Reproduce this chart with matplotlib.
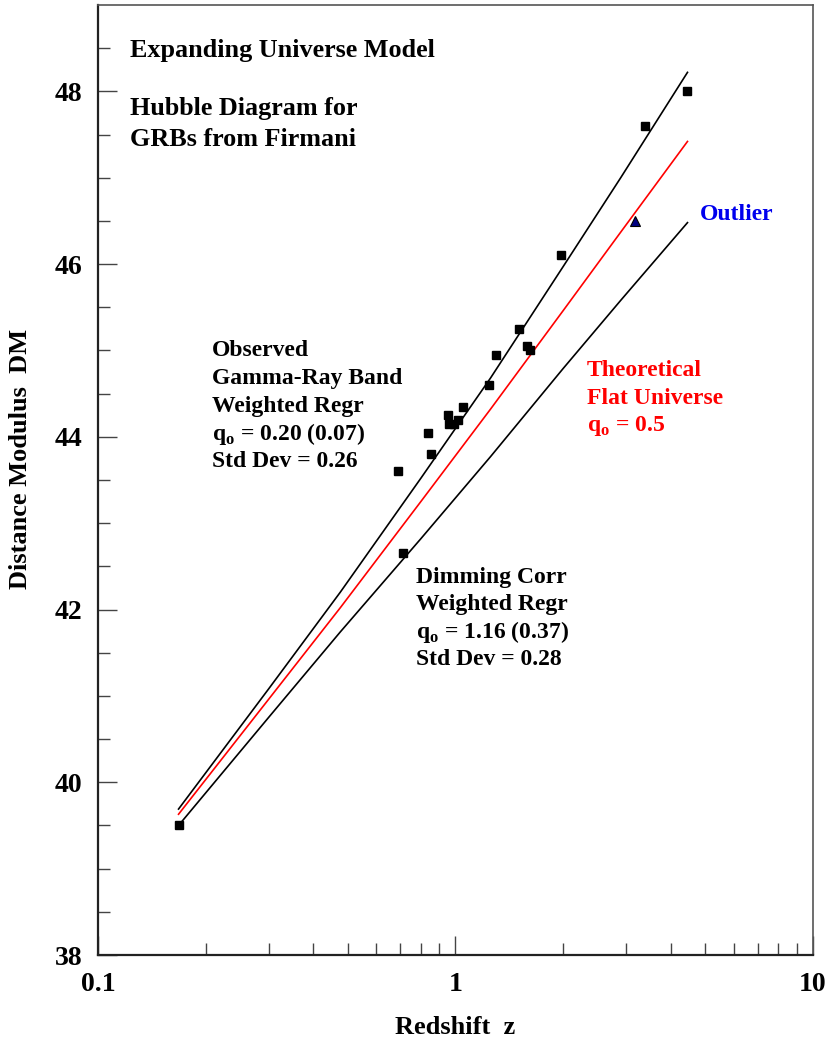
import matplotlib
matplotlib.use("Agg")
import matplotlib.pyplot as plt
from matplotlib.ticker import FixedLocator, NullFormatter, FixedFormatter

# GRB sample (Firmani): redshift and distance modulus
z_grb = [0.168, 0.691, 0.712, 0.839, 0.855, 0.951, 0.960, 0.989, 1.015,
         1.051, 1.245, 1.297, 1.508, 1.584, 1.612, 1.968, 3.384, 4.45]
dm_grb = [39.5, 43.6, 42.65, 44.05, 43.8, 44.25, 44.15, 44.15, 44.2,
          44.35, 44.6, 44.95, 45.25, 45.05, 45.0, 46.1, 47.6, 48.0]

# Outlier burst
z_outlier = [3.17]
dm_outlier = [46.5]

# Model curves sampled in redshift
z_curve = [0.168, 0.3, 0.476, 0.8, 1.253, 2.0, 2.899, 4.457]
dm_observed_fit = [39.69, 41.08, 42.20, 43.52, 44.68, 45.97, 47.00, 48.22]
dm_flat_theory = [39.63, 40.96, 42.02, 43.25, 44.32, 45.46, 46.37, 47.42]
dm_dimming_fit = [39.50, 40.75, 41.74, 42.82, 43.77, 44.79, 45.58, 46.48]

y_major = [38, 40, 42, 44, 46, 48]
y_minor = [38.5, 39, 39.5, 40.5, 41, 41.5, 42.5, 43, 43.5,
           44.5, 45, 45.5, 46.5, 47, 47.5, 48.5]
x_major = [0.1, 1, 10]
x_major_labels = ["0.1", "1", "10"]

SERIF = ["Liberation Serif", "DejaVu Serif"]
plt.rcParams["font.family"] = SERIF
plt.rcParams["font.weight"] = "bold"
plt.rcParams["mathtext.fontset"] = "custom"
plt.rcParams["mathtext.rm"] = "Liberation Serif:bold"

fig = plt.figure(figsize=(8.27, 10.41), dpi=100)
ax = fig.add_axes([0.1185, 0.0826, 0.8645, 0.9126])

ax.plot(z_curve, dm_observed_fit, color="black", lw=1.2)
ax.plot(z_curve, dm_flat_theory, color="red", lw=1.2)
ax.plot(z_curve, dm_dimming_fit, color="black", lw=1.2)

ax.plot(z_grb, dm_grb, ls="none", marker="s", ms=5.5, color="black")
ax.plot(z_outlier, dm_outlier, ls="none", marker="^", ms=6.5,
        markerfacecolor="#000080", markeredgecolor="black", mew=0.8)

ax.set_xscale("log")
ax.set_xlim(0.1, 10)
ax.set_ylim(38, 49)

ax.xaxis.set_major_locator(FixedLocator(x_major))
ax.xaxis.set_major_formatter(FixedFormatter(x_major_labels))
ax.xaxis.set_minor_locator(FixedLocator(
    [m * d for d in (0.1, 1) for m in range(2, 10)]))
ax.xaxis.set_minor_formatter(NullFormatter())
ax.yaxis.set_major_locator(FixedLocator(y_major))
ax.yaxis.set_minor_locator(FixedLocator(y_minor))

ax.tick_params(axis="both", which="both", direction="in", color="#444444",
               width=1.0)
ax.tick_params(axis="both", which="major", length=14)
ax.tick_params(axis="both", which="minor", length=8.5)
ax.tick_params(axis="y", which="major", pad=11, labelsize=20)
ax.tick_params(axis="x", which="major", pad=12, labelsize=20)
for lab in ax.get_xticklabels() + ax.get_yticklabels():
    lab.set_fontweight("bold")

for side in ("left", "bottom"):
    ax.spines[side].set_color("#222222")
    ax.spines[side].set_linewidth(1.6)
for side in ("top", "right"):
    ax.spines[side].set_color("#555555")
    ax.spines[side].set_linewidth(1.2)

ax.set_xlabel("Redshift  z", fontsize=19, fontweight="bold", labelpad=14)
ax.set_ylabel("Distance Modulus  DM", fontsize=19, fontweight="bold")
ax.yaxis.set_label_coords(-0.092, 0.522)

def block(x_px, y_px, lines, color="black", step=27.6, size=17):
    for i, t in enumerate(lines):
        fig.text(x_px / 827, 1 - (y_px + i * step) / 1041, t, color=color,
                 fontsize=size, fontweight="bold", ha="left", va="center")

block(130, 50, ["Expanding Universe Model"], size=18.8)
block(130, 109, ["Hubble Diagram for", "GRBs from Firmani"], step=30.5,
      size=18.8)
block(212, 351, ["Observed", "Gamma-Ray Band", "Weighted Regr",
                 r"q$_{\mathregular{o}}$ = 0.20 (0.07)", "Std Dev = 0.26"])
block(587, 371, ["Theoretical", "Flat Universe",
                 r"q$_{\mathregular{o}}$ = 0.5"], color="red")
block(700, 215, ["Outlier"], color="#0000ee")
block(416, 577, ["Dimming Corr", "Weighted Regr",
                 r"q$_{\mathregular{o}}$ = 1.16 (0.37)", "Std Dev = 0.28"])

fig.savefig("out.png", dpi=100)
